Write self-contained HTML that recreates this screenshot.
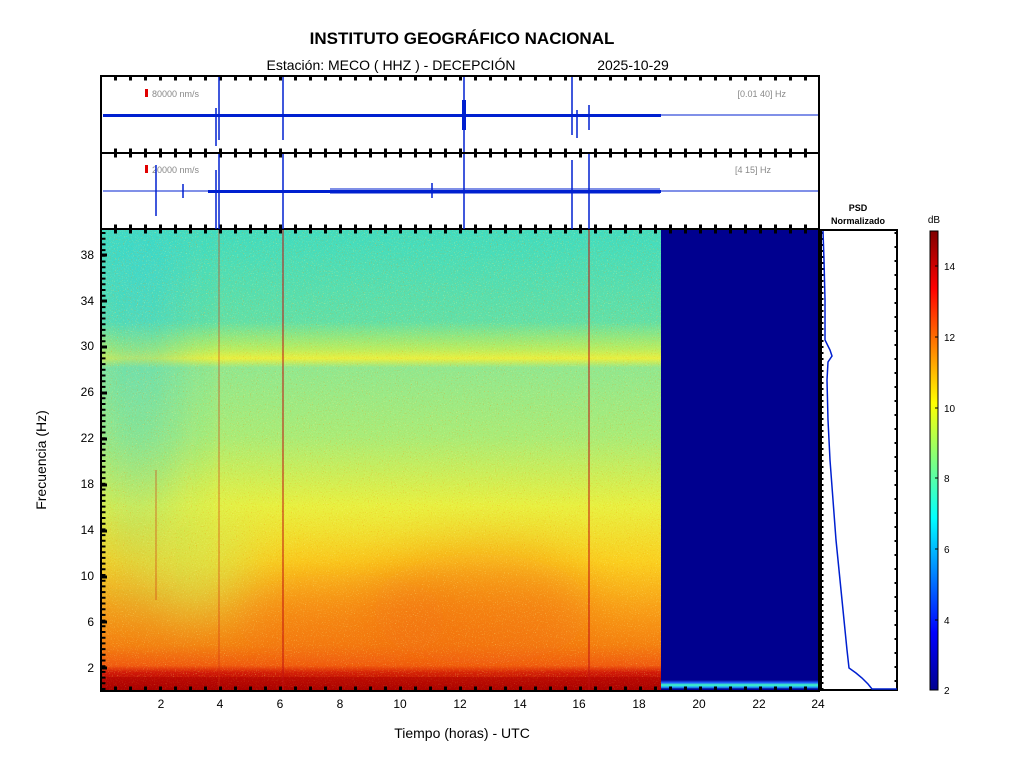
<!DOCTYPE html>
<html><head><meta charset="utf-8"><style>
body{margin:0;background:#fff;}
svg{display:block;font-family:"Liberation Sans",sans-serif;}
</style></head><body>
<svg width="1024" height="768" viewBox="0 0 1024 768">
<defs>
<linearGradient id="vg" x1="0" y1="0" x2="0" y2="1">
<stop offset="0" stop-color="#40dcc0"/>
<stop offset="0.2" stop-color="#60e0a8"/>
<stop offset="0.26" stop-color="#b8ee60"/>
<stop offset="0.28" stop-color="#e8f040"/>
<stop offset="0.3" stop-color="#90e890"/>
<stop offset="0.45" stop-color="#a8ec78"/>
<stop offset="0.6" stop-color="#e8f040"/>
<stop offset="0.72" stop-color="#fad020"/>
<stop offset="0.82" stop-color="#f8a018"/>
<stop offset="0.9" stop-color="#f48010"/>
<stop offset="0.945" stop-color="#f05a10"/>
<stop offset="0.96" stop-color="#d01808"/>
<stop offset="1" stop-color="#a00000"/>
</linearGradient>
<linearGradient id="cyf" x1="0" y1="0" x2="0" y2="1">
<stop offset="0" stop-color="#30d0e0" stop-opacity="0.5"/>
<stop offset="0.6" stop-color="#30d0e0" stop-opacity="0.3"/>
<stop offset="1" stop-color="#30d0e0" stop-opacity="0"/>
</linearGradient>
<linearGradient id="cb" x1="0" y1="1" x2="0" y2="0">
<stop offset="0" stop-color="#00008f"/>
<stop offset="0.125" stop-color="#0000ff"/>
<stop offset="0.375" stop-color="#00ffff"/>
<stop offset="0.625" stop-color="#ffff00"/>
<stop offset="0.875" stop-color="#ff0000"/>
<stop offset="1" stop-color="#800000"/>
</linearGradient>
<linearGradient id="blb" x1="0" y1="0" x2="0" y2="1">
<stop offset="0" stop-color="#00008f"/>
<stop offset="0.3" stop-color="#2060ff"/>
<stop offset="0.55" stop-color="#40ffc0"/>
<stop offset="0.8" stop-color="#20a0ff"/>
<stop offset="1" stop-color="#00008f"/>
</linearGradient>
<filter id="bl" x="-50%" y="-50%" width="200%" height="200%"><feGaussianBlur stdDeviation="25"/></filter>
<filter id="nz" x="0" y="0" width="100%" height="100%">
<feTurbulence type="fractalNoise" baseFrequency="0.9" numOctaves="1" seed="3"/>
<feColorMatrix values="0 0 0 0 1  0 0 0 0 1  0 0 0 0 0.3  4 0 0 0 -2.4"/>
</filter>
<filter id="nz2" x="0" y="0" width="100%" height="100%">
<feTurbulence type="fractalNoise" baseFrequency="0.85" numOctaves="1" seed="9"/>
<feColorMatrix values="0 0 0 0 0.9  0 0 0 0 0.25  0 0 0 0 0  4 0 0 0 -2.4"/>
</filter>
</defs>

<text x="462" y="44" font-size="17" font-weight="bold" text-anchor="middle">INSTITUTO GEOGRÁFICO NACIONAL</text>
<text x="391" y="70" font-size="14" text-anchor="middle">Estación:  MECO ( HHZ ) - DECEPCIÓN</text>
<text x="633" y="70" font-size="14" text-anchor="middle">2025-10-29</text>

<!-- spectrogram -->
<svg x="101" y="229" width="560" height="462" overflow="hidden">
<rect x="0" y="0" width="560" height="462" fill="url(#vg)"/>
<rect x="0" y="0" width="75" height="400" fill="url(#cyf)" filter="url(#bl)"/>
<ellipse cx="100" cy="330" rx="50" ry="60" fill="#c8f060" opacity="0.5" filter="url(#bl)"/>
<ellipse cx="380" cy="380" rx="110" ry="55" fill="#f06010" opacity="0.45" filter="url(#bl)"/>
<ellipse cx="240" cy="390" rx="110" ry="45" fill="#f06010" opacity="0.3" filter="url(#bl)"/>
<rect x="0" y="0" width="560" height="462" filter="url(#nz)" opacity="0.5"/>
<rect x="0" y="0" width="560" height="462" filter="url(#nz2)" opacity="0.5"/>
<rect x="0" y="448" width="560" height="14" fill="#b00000" opacity="0.5"/>
</svg>
<rect x="661" y="229" width="158" height="462" fill="#00008f"/>
<rect x="661" y="680" width="158" height="9" fill="url(#blb)"/>
<line x1="283" y1="229" x2="283" y2="691" stroke="#c01010" stroke-width="1"/>
<line x1="589" y1="229" x2="589" y2="691" stroke="#c01010" stroke-width="1"/>
<line x1="219" y1="229" x2="219" y2="691" stroke="#d03010" stroke-width="1" opacity="0.6"/>
<line x1="156" y1="470" x2="156" y2="600" stroke="#d03010" stroke-width="1" opacity="0.6"/>
<rect x="101" y="229" width="718" height="462" fill="none" stroke="#000" stroke-width="2"/>

<!-- y ticks -->
<g font-size="12" text-anchor="end">
<text x="94" y="259">38</text><text x="94" y="305">34</text><text x="94" y="350">30</text>
<text x="94" y="396">26</text><text x="94" y="442">22</text><text x="94" y="488">18</text>
<text x="94" y="534">14</text><text x="94" y="580">10</text><text x="94" y="626">6</text>
<text x="94" y="672">2</text>
</g>
<g stroke="#000" stroke-width="3">
<path d="M101 255h6M101 301h6M101 347h6M101 393h6M101 439h6M101 485h6M101 531h6M101 577h6M101 622h6M101 668h6"/>
</g>
<path d="M101 232 V690" stroke="#000" stroke-width="5" stroke-dasharray="2 3.7" fill="none" transform="translate(2,0)"/>
<text transform="translate(46,460) rotate(-90)" font-size="14" text-anchor="middle">Frecuencia  (Hz)</text>

<!-- x ticks -->
<g font-size="12" text-anchor="middle">
<text x="161" y="708">2</text><text x="220" y="708">4</text><text x="280" y="708">6</text>
<text x="340" y="708">8</text><text x="400" y="708">10</text><text x="460" y="708">12</text>
<text x="520" y="708">14</text><text x="579" y="708">16</text><text x="639" y="708">18</text>
<text x="699" y="708">20</text><text x="759" y="708">22</text><text x="818" y="708">24</text>
</g>
<path d="M101 689 H819" stroke="#000" stroke-width="5" stroke-dasharray="3 12" stroke-dashoffset="-13" fill="none"/>
<path d="M101 231 H819" stroke="#000" stroke-width="5" stroke-dasharray="3 12" stroke-dashoffset="-13" fill="none"/>
<text x="462" y="738" font-size="14" text-anchor="middle">Tiempo (horas) - UTC</text>

<!-- seismo panels -->
<rect x="101" y="76" width="718" height="77" fill="#fff" stroke="#000" stroke-width="2"/>
<rect x="101" y="153" width="718" height="76" fill="#fff" stroke="#000" stroke-width="2"/>
<path d="M101 78 H819 M101 151 H819 M101 155 H819 M101 227 H819" stroke="#000" stroke-width="5" stroke-dasharray="3 12" stroke-dashoffset="-13" fill="none"/>
<rect x="145" y="89" width="3" height="8" fill="#e00000"/>
<text x="152" y="97" font-size="9" fill="#888">80000 nm/s</text>
<text x="786" y="97" font-size="9" fill="#888" text-anchor="end">[0.01 40] Hz</text>
<rect x="145" y="165" width="3" height="8" fill="#e00000"/>
<text x="152" y="173" font-size="9" fill="#888">20000 nm/s</text>
<text x="771" y="173" font-size="9" fill="#888" text-anchor="end">[4 15] Hz</text>
<g stroke="#0020d0" fill="none">
<rect x="103" y="114" width="558" height="3" fill="#0020d0" stroke="none"/>
<line x1="661" y1="115" x2="818" y2="115" stroke-width="1"/>
<path d="M219 77V140 M216 108V146 M283 77V140 M464 77V152 M572 77V135 M589 105V130 M577 110V138" stroke-width="1.5"/>
<rect x="462" y="100" width="4" height="30" fill="#0020d0" stroke="none"/>
<line x1="103" y1="191" x2="208" y2="191" stroke-width="1"/>
<rect x="208" y="190" width="453" height="3" fill="#0020d0" stroke="none"/>
<rect x="330" y="188" width="330" height="6" fill="#0020d0" stroke="none" opacity="0.5"/>
<line x1="661" y1="191" x2="818" y2="191" stroke-width="1"/>
<path d="M156 165V216 M219 154V229 M216 170V229 M283 154V229 M464 154V229 M572 160V229 M589 154V229 M432 183V198 M183 184V198" stroke-width="1.5"/>
</g>

<!-- PSD panel -->
<text x="858" y="211" font-size="9" font-weight="bold" text-anchor="middle">PSD</text>
<text x="858" y="224" font-size="9" font-weight="bold" text-anchor="middle">Normalizado</text>
<rect x="821" y="230" width="76" height="460" fill="#fff" stroke="#000" stroke-width="2"/>
<path d="M896 232 V690" stroke="#000" stroke-width="3" stroke-dasharray="2 12" fill="none"/>
<path d="M822 232 V690" stroke="#000" stroke-width="3" stroke-dasharray="2 4" fill="none"/>
<polyline fill="none" stroke="#0020d0" stroke-width="1.5" points="823,231 824,260 825,300 825,340 830,350 832,356 828,362 827,380 828,420 830,460 833,500 836,540 840,580 844,620 847,650 849,668 856,673 862,678 868,684 872,689 897,689"/>

<!-- colorbar -->
<text x="934" y="223" font-size="10" text-anchor="middle">dB</text>
<rect x="930" y="231" width="8" height="459" fill="url(#cb)" stroke="#000" stroke-width="1"/>
<g font-size="10">
<text x="944" y="270">14</text><text x="944" y="341">12</text><text x="944" y="412">10</text>
<text x="944" y="482">8</text><text x="944" y="553">6</text><text x="944" y="624">4</text>
<text x="944" y="694">2</text>
</g>
<path d="M938 266h-3M938 337h-3M938 408h-3M938 478h-3M938 549h-3M938 620h-3" stroke="#000"/>
</svg>
</body></html>
